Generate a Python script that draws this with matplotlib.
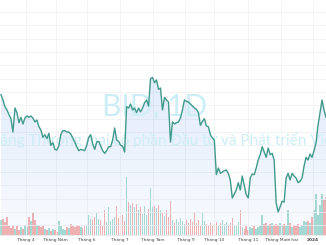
import matplotlib
matplotlib.use("Agg")
import matplotlib.pyplot as plt
import numpy as np
from matplotlib.colors import LinearSegmentedColormap

# BID daily close (thousand VND), mid-March 2023 -> mid-Jan 2024
price = [
    47.8, 47.4, 46.9, 46.65, 46.3, 46.0, 45.0, 46.8, 46.45, 45.7,
    46.1, 45.6, 46.05, 46.2, 46.1, 46.2, 46.05, 45.75, 45.9, 45.4,
    45.15, 44.6, 44.8, 44.5, 44.9, 44.0, 44.2, 43.7, 43.65, 43.95,
    44.8, 45.1, 45.1, 45.0, 45.0, 44.85, 44.55, 44.25, 43.9, 43.6,
    43.7, 43.65, 43.6, 44.0, 44.6, 44.8, 44.1, 43.7, 44.25, 44.3,
    43.95, 43.6, 43.4, 43.6, 43.9, 43.9, 44.4, 45.3, 44.4, 44.3,
    44.0, 43.95, 43.5, 46.9, 46.8, 47.1, 46.65, 46.8, 46.45, 46.8,
    46.5, 46.8, 47.2, 47.4, 46.95, 49.0, 49.1, 48.7, 48.9, 48.2,
    48.3, 46.65, 47.6, 47.4, 47.25, 44.25, 45.75, 45.6, 45.7, 45.75,
    46.05, 46.65, 47.4, 47.3, 47.25, 47.1, 46.95, 46.8, 46.7, 46.45,
    45.5, 45.8, 46.0, 45.45, 45.4, 44.8, 44.55, 44.4, 41.8, 42.3,
    41.9, 42.0, 42.1, 42.15, 41.9, 41.4, 40.05, 40.35, 40.65, 41.2,
    40.65, 41.7, 41.0, 40.3, 40.05, 41.55, 41.85, 41.8, 42.3, 42.9,
    43.3, 43.9, 43.5, 43.1, 43.8, 43.3, 43.4, 42.9, 39.7, 39.0,
    39.4, 39.8, 39.75, 41.55, 41.9, 41.4, 41.9, 41.7, 41.55, 41.2,
    41.3, 41.55, 42.45, 43.1, 42.9, 43.35, 43.1, 43.6, 44.2, 45.5,
    46.45, 47.4, 46.65, 46.1,
]

# volume (million shares)
volume = [
    1.5, 1.6, 1.3, 1.8, 0.9, 0.7, 1.0, 0.6, 0.9, 0.5,
    0.8, 0.6, 1.0, 0.8, 1.8, 1.4, 2.2, 1.5, 1.0, 0.9,
    0.8, 0.9, 0.6, 0.5, 0.7, 0.4, 0.6, 0.5, 0.3, 1.4,
    0.9, 0.6, 0.5, 0.8, 0.7, 1.1, 0.9, 0.8, 1.0, 0.9,
    0.8, 0.7, 0.9, 1.0, 2.0, 1.6, 1.5, 1.8, 2.2, 1.6,
    1.5, 0.9, 2.5, 1.3, 2.8, 1.4, 1.6, 1.8, 2.9, 1.7,
    1.9, 2.0, 1.4, 5.8, 3.3, 3.0, 3.2, 2.8, 3.1, 2.5,
    2.8, 2.1, 2.9, 2.0, 2.6, 4.7, 2.8, 2.9, 2.7, 3.0,
    2.5, 2.2, 1.9, 2.5, 1.8, 3.4, 1.5, 1.2, 1.6, 1.3,
    1.7, 1.4, 1.1, 1.5, 1.2, 1.6, 1.3, 2.3, 1.2, 1.5,
    1.0, 2.3, 1.4, 1.1, 1.0, 1.2, 0.9, 1.1, 1.3, 1.0,
    1.2, 1.5, 1.1, 1.3, 1.0, 1.2, 1.7, 1.0, 0.9, 1.3,
    2.5, 0.8, 0.6, 0.9, 0.5, 0.8, 0.7, 0.9, 0.6, 0.8,
    1.0, 2.0, 1.1, 1.2, 1.0, 1.1, 1.2, 1.0, 1.1, 1.0,
    1.2, 1.0, 1.1, 0.9, 2.5, 1.2, 0.8, 1.0, 0.9, 1.1,
    0.8, 1.0, 1.4, 1.3, 1.4, 1.2, 1.8, 2.5, 4.1, 2.0,
    3.0, 4.1, 3.5, 3.8,
]

month_labels = ['Tháng 4', 'Tháng Năm', 'Tháng 6', 'Tháng 7', 'Tháng Tám',
                'Tháng 9', 'Tháng 10', 'Tháng 11', 'Tháng Mười hai', '2024']
month_pos = [12.5, 27.5, 43, 59.5, 76, 92.5, 107, 124, 140.5, 156.5]

title = 'BID, 1D'
subtitle = 'Ngân hàng Thương mại cổ phần Đầu tư và Phát triển Việt Nam'

price = np.array(price)
volume = np.array(volume)
x = np.arange(len(price))
ylo, yhi = 37.275, 54.9

fig = plt.figure(figsize=(3.26, 2.45), dpi=100)
rect = [0, 10 / 245, 1, 235 / 245]

# volume panel underneath
axv = fig.add_axes(rect, zorder=1)
up = np.r_[True, price[1:] >= price[:-1]]
cols = np.where(up, '#a9dcd3', '#f5b3b1')
axv.bar(x, volume, width=0.75, color=cols, linewidth=0)
axv.set_xlim(-0.5, len(price) - 1)
axv.set_ylim(0, 23.5)
axv.axis('off')

# price panel on top
ax = fig.add_axes(rect, zorder=2)
ax.patch.set_alpha(0)

cmap = LinearSegmentedColormap.from_list(
    'area', [(0.16, 0.45, 0.9, 0.03), (0.16, 0.45, 0.9, 0.14)])
grad = np.linspace(0, 1, 256).reshape(-1, 1)
img = ax.imshow(grad, extent=[0, len(price) - 1, ylo, price.max()],
                aspect='auto', origin='lower', cmap=cmap, zorder=1)
poly = ax.fill_between(x, price, ylo, facecolor='none', edgecolor='none')
img.set_clip_path(poly.get_paths()[0], transform=ax.transData)
ax.set_xlim(-0.5, len(price) - 1)
ax.set_ylim(ylo, yhi)

ax.plot(x, price, color='#3f9a8c', lw=1.0, zorder=4)

# watermark
ax.text(0.475, 0.545, title, transform=ax.transAxes, ha='center', va='center',
        fontsize=21.5, color='#cdeef6', family='Lato', zorder=3)
ax.text(0.5, 0.405, subtitle, transform=ax.transAxes, ha='center', va='center',
        fontsize=11, color='#cdeef6', family='Lato', zorder=3)

ax.set_yticks(np.arange(38, 55, 1))
ax.set_yticklabels([])
ax.tick_params(axis='y', length=0)
ax.set_xticks(month_pos)
ax.set_xticklabels(month_labels)
ax.tick_params(axis='x', length=0, pad=1.8, labelsize=3.1, labelcolor='#444444')
ax.get_xticklabels()[-1].set_fontweight('bold')
ax.grid(True, color='#f2f2f2', lw=0.6, zorder=0)
ax.set_axisbelow(True)
for s in ['top', 'left', 'right']:
    ax.spines[s].set_visible(False)
ax.spines['bottom'].set_color('#e6e6e6')
ax.spines['bottom'].set_linewidth(0.6)

fig.savefig('out.png', dpi=100)
